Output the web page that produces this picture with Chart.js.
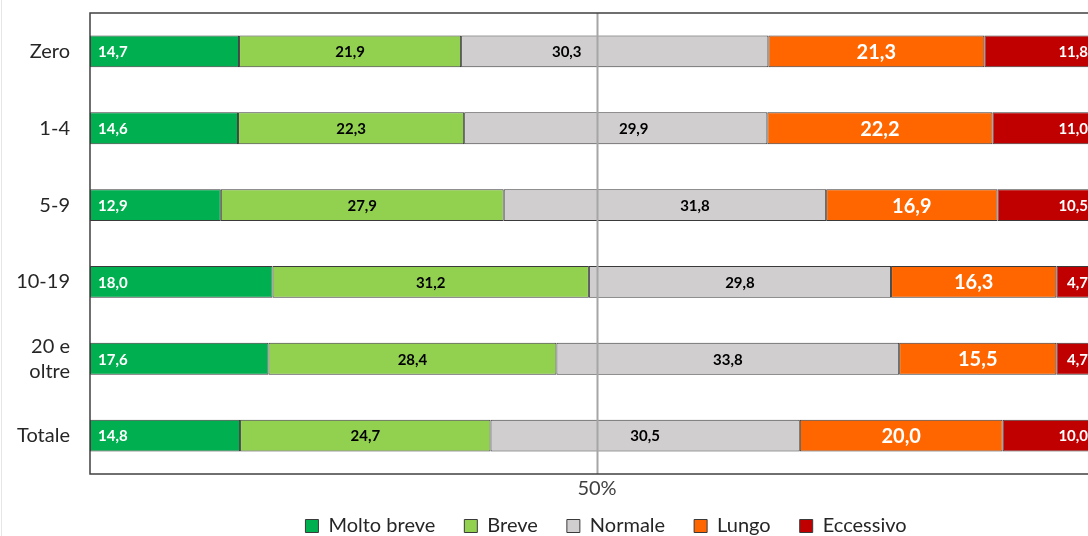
<!DOCTYPE html>
<html>
<head>
<meta charset="utf-8">
<script src="https://cdn.jsdelivr.net/npm/chart.js@4.4.1/dist/chart.umd.min.js"></script>
<style>
  html, body { margin: 0; padding: 0; background: #fff; overflow: hidden; width: 1088px; height: 536px; }
  #wrap { position: absolute; left: 0; top: 0; width: 1212px; height: 563px; }
  #edge { position: absolute; left: 1px; top: 0; width: 1px; height: 536px; background: #e6e6e6; }
</style>
</head>
<body>
<div id="wrap"><canvas id="c" width="1212" height="563"></canvas></div>
<div id="edge"></div>
<script>
const categories = ['Zero', '1-4', '5-9', '10-19', ['20 e', 'oltre'], 'Totale'];
const seriesNames = ['Molto breve', 'Breve', 'Normale', 'Lungo', 'Eccessivo'];
const moltoBreve = [14.7, 14.6, 12.9, 18.0, 17.6, 14.8];
const breve      = [21.9, 22.3, 27.9, 31.2, 28.4, 24.7];
const normale    = [30.3, 29.9, 31.8, 29.8, 33.8, 30.5];
const lungo      = [21.3, 22.2, 16.9, 16.3, 15.5, 20.0];
const eccessivo  = [11.8, 11.0, 10.5, 4.7, 4.7, 10.0];
const xTickValues = [50];

const colors = ['#00B050', '#92D050', '#D0CECE', '#FF6600', '#C00000'];
const seriesValues = [moltoBreve, breve, normale, lungo, eccessivo];
const FONT = 'Lato, "Open Sans", sans-serif';

// label styles per series (not data)
const labelStyle = [
  { color: '#ffffff', size: 15, anchor: 'start', pad: 8 },
  { color: '#000000', size: 15, anchor: 'center' },
  { color: '#000000', size: 15, anchor: 'center', shift: [-48, 18, 30, 0, 0, 0] },
  { color: '#ffffff', size: 20, anchor: 'center' },
  { color: '#ffffff', size: 15, anchor: 'end', pad: 16 }
];
const legendShift = { x: 54, y: -17 };

const fmt = v => v.toFixed(1).replace('.', ',');

const labelPlugin = {
  id: 'barLabels',
  afterDatasetsDraw(chart) {
    const ctx = chart.ctx;
    ctx.save();
    chart.data.datasets.forEach((ds, di) => {
      const meta = chart.getDatasetMeta(di);
      const st = labelStyle[di];
      ctx.font = 'bold ' + st.size + 'px ' + FONT;
      ctx.fillStyle = st.color;
      ctx.textBaseline = 'middle';
      meta.data.forEach((el, i) => {
        const txt = fmt(ds.data[i]);
        const x0 = Math.min(el.base, el.x), x1 = Math.max(el.base, el.x);
        let x;
        if (st.anchor === 'start') { ctx.textAlign = 'left'; x = x0 + st.pad; }
        else if (st.anchor === 'end') { ctx.textAlign = 'right'; x = x1 - st.pad; }
        else { ctx.textAlign = 'center'; x = (x0 + x1) / 2 + (st.shift ? st.shift[i] : 0); }
        ctx.fillText(txt, x, el.y + 1);
      });
    });
    ctx.restore();
  }
};

const framePlugin = {
  id: 'frame',
  afterLayout(chart) {
    const lg = chart.legend;
    if (lg) {
      lg.left += legendShift.x; lg.right += legendShift.x;
      lg.top += legendShift.y; lg.bottom += legendShift.y;
    }
  },
  afterDraw(chart) {
    const a = chart.chartArea, ctx = chart.ctx;
    const xs = chart.scales.x;
    ctx.save();
    ctx.strokeStyle = '#A6A6A6';
    ctx.lineWidth = 2;
    xTickValues.forEach(v => {
      const px = Math.round(xs.getPixelForValue(v)) + 0.5;
      ctx.beginPath(); ctx.moveTo(px, a.top); ctx.lineTo(px, a.bottom); ctx.stroke();
    });
    ctx.strokeStyle = '#404040';
    ctx.lineWidth = 1.5;
    ctx.strokeRect(a.left, a.top, a.right - a.left, a.bottom - a.top);
    ctx.restore();
  }
};

new Chart(document.getElementById('c'), {
  type: 'bar',
  data: {
    labels: categories,
    datasets: seriesNames.map((n, i) => ({
      label: n,
      data: seriesValues[i],
      backgroundColor: colors[i],
      borderColor: '#3a3a3a',
      borderWidth: 1,
      borderSkipped: false,
      barPercentage: 0.415,
      categoryPercentage: 1.0
    }))
  },
  options: {
    indexAxis: 'y',
    responsive: false,
    animation: false,
    devicePixelRatio: 1,
    layout: { padding: { top: 13, left: 0, right: 108, bottom: 0 } },
    scales: {
      x: {
        stacked: true,
        min: 0, max: 100,
        afterBuildTicks: s => { s.ticks = xTickValues.map(v => ({ value: v })); },
        afterFit: s => { s.paddingLeft = 0; s.paddingRight = 0; },
        grid: { display: false, drawTicks: false },
        border: { display: false },
        ticks: {
          padding: 3,
          color: '#404040',
          font: { family: FONT, size: 20 },
          callback: v => v + '%',
          maxRotation: 0
        }
      },
      y: {
        stacked: true,
        afterFit: s => { s.width = 90; s.paddingTop = 0; s.paddingBottom = 0; },
        grid: { display: false, drawTicks: false },
        border: { display: false },
        ticks: {
          padding: 20,
          color: '#262626',
          font: { family: FONT, size: 20, lineHeight: 1.25 }
        }
      }
    },
    plugins: {
      legend: {
        position: 'bottom',
        labels: {
          boxWidth: 13,
          boxHeight: 13,
          padding: 29,
          color: '#262626',
          font: { family: FONT, size: 20 }
        }
      },
      tooltip: { enabled: false }
    }
  },
  plugins: [labelPlugin, framePlugin]
});
</script>
</body>
</html>
